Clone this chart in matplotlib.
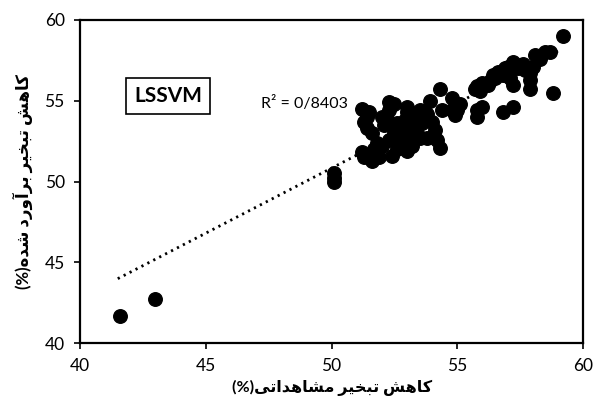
import matplotlib
matplotlib.use("Agg")
import matplotlib.pyplot as plt
import numpy as np

observed = [41.6, 43.0, 50.1, 50.1, 50.1,
            51.2, 51.5, 51.3, 51.4, 51.6, 51.8, 51.2, 51.3, 51.6, 51.9, 51.7, 52.0,
            52.1, 52.0, 52.3, 52.5, 52.3, 52.5, 52.3, 52.6, 52.8, 52.9, 53.0, 53.2,
            53.3, 53.1, 53.0, 53.2, 53.5, 53.6, 53.8, 53.5, 54.0, 53.9, 54.3, 54.2,
            54.3, 54.1, 53.8, 54.4, 54.8, 54.8, 55.0, 55.1, 54.9, 52.8, 52.2, 52.7,
            52.4, 51.4, 53.4, 52.6, 53.7, 53.0, 52.9,
            55.7, 55.8, 55.8, 55.8, 56.0, 56.0, 56.2, 56.4, 56.5, 56.8, 56.9, 57.2,
            57.0, 57.2, 56.8, 57.2, 57.0, 57.6, 57.4, 58.0, 57.9, 57.9, 57.9, 58.3,
            58.5, 58.7, 58.8, 59.2, 56.3, 57.1, 55.9, 56.6, 57.7, 58.1]
estimated = [41.7, 42.7, 50.5, 50.2, 50.0,
             54.5, 54.3, 53.7, 53.3, 53.0, 52.4, 51.8, 51.5, 51.3, 51.5, 52.0, 52.2,
             53.5, 54.0, 54.9, 54.8, 54.4, 53.0, 52.6, 52.0, 52.5, 53.8, 54.3, 54.0,
             53.5, 52.9, 51.9, 52.2, 52.7, 53.6, 54.2, 54.4, 53.7, 55.0, 55.7, 52.6,
             52.1, 53.2, 52.7, 54.4, 55.2, 54.4, 54.4, 54.8, 54.1, 53.2, 53.9, 53.4,
             51.6, 54.0, 53.0, 53.6, 53.9, 54.6, 52.4,
             55.7, 55.9, 54.4, 54.0, 56.1, 54.6, 56.0, 56.6, 56.4, 56.6, 57.0, 56.0,
             57.1, 57.4, 54.3, 54.6, 56.8, 57.3, 57.0, 57.1, 56.3, 55.7, 56.7, 57.6,
             58.0, 58.0, 55.5, 59.0, 56.2, 56.4, 55.6, 56.8, 56.9, 57.8]

# trend line
trend_slope = 0.805
trend_intercept = 10.58
trend_x = [41.5, 59.0]
r2_text = "R² = 0/8403"
model_name = "LSSVM"

ticks = [40, 45, 50, 55, 60]

# Persian labels written in visual order with presentation forms
xlabel = "(%)\uFBFD\uFE97\uFE8D\uFEAA\uFEEB\uFE8E\uFEB8\uFEE3 \uFEAE\uFBFF\uFEA8\uFE92\uFE97 \uFEB6\uFEEB\uFE8E\uFB90"
ylabel = "(%)\uFEE9\uFEAA\uFEB7 \uFEA9\uFEAD\uFEED\uFE81\uFEAE\uFE91 \uFEAE\uFBFF\uFEA8\uFE92\uFE97 \uFEB6\uFEEB\uFE8E\uFB90"

fonts = ["Lato", "DejaVu Sans"]
plt.rcParams["font.family"] = fonts

fig = plt.figure(figsize=(5.95, 4.07), dpi=100)
ax = fig.add_axes([0.1345, 0.157, 0.8455, 0.794])

ax.scatter(observed, estimated, s=95, color="black", zorder=3)

tx = np.array(trend_x)
ax.plot(tx, trend_slope * tx + trend_intercept, color="black", lw=2,
        linestyle=(0, (0.8, 1.6)), zorder=2)

ax.text(47.2, 54.8, r2_text, fontsize=11.5, va="center", ha="left")
ax.text(43.5, 55.3, model_name, fontsize=15, fontweight="bold", va="center", ha="center",
        bbox=dict(boxstyle="square,pad=0.4", fc="white", ec="black", lw=1.2))

ax.set_xlim(40, 60)
ax.set_ylim(40, 60)
ax.set_xticks(ticks)
ax.set_yticks(ticks)
ax.tick_params(direction="out", length=4, width=1.2, labelsize=12.5, pad=7)
for sp in ax.spines.values():
    sp.set_linewidth(1.6)

ax.set_xlabel(xlabel, fontsize=11.5, fontweight="bold", labelpad=4)
ax.set_ylabel(ylabel, fontsize=12, fontweight="bold", labelpad=8)

plt.savefig("out.png", dpi=100)
